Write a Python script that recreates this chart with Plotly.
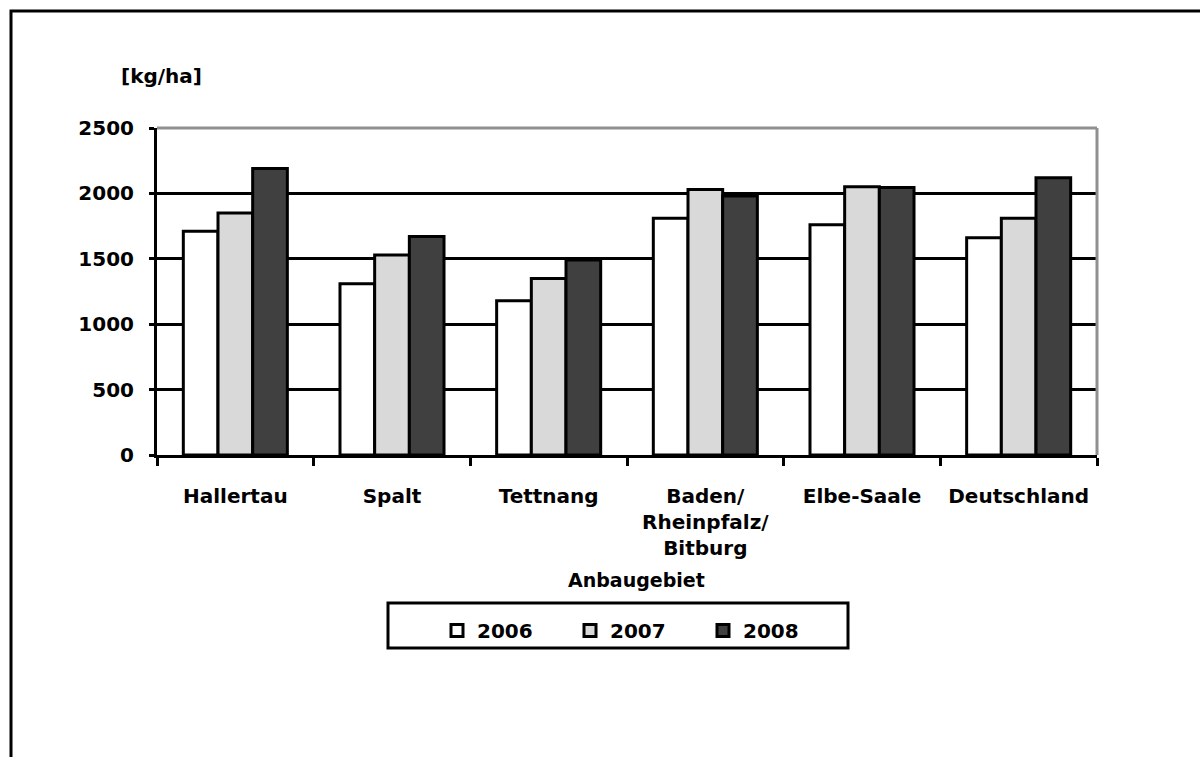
import plotly.graph_objects as go

# Hopfenertrag je Anbaugebiet
regions = ["Hallertau", "Spalt", "Tettnang", "Baden/<br>Rheinpfalz/<br>Bitburg", "Elbe-Saale", "Deutschland"]
years = ["2006", "2007", "2008"]
yield_2006 = [1710, 1310, 1180, 1810, 1760, 1660]
yield_2007 = [1850, 1530, 1350, 2030, 2050, 1810]
yield_2008 = [2190, 1670, 1490, 1980, 2045, 2120]
y_ticks = [0, 500, 1000, 1500, 2000, 2500]

colors = ["#ffffff", "#d9d9d9", "#404040"]
FONT = "DejaVu Sans, Arial, sans-serif"

fig = go.Figure()
for name, vals, col in zip(years, [yield_2006, yield_2007, yield_2008], colors):
    fig.add_trace(go.Bar(
        name=name, x=regions, y=vals,
        marker=dict(color=col, line=dict(color="#000000", width=3)),
    ))

# plot area in pixels: x 157..1097, y 128..455
L, R, T, B = 157, 1097, 128, 455
W, H = 1200, 757
def px(x):
    return (x - L) / (R - L)
def py(y):
    return (B - y) / (B - T)

fig.update_layout(
    width=W, height=H,
    margin=dict(l=L, r=W - R, t=T, b=H - B),
    paper_bgcolor="white", plot_bgcolor="white",
    font=dict(family=FONT, size=20, color="#000000", weight="bold"),
    barmode="group", bargap=0.336, bargroupgap=0,
    showlegend=True,
    legend=dict(
        orientation="h", x=px(437), y=py(611), xanchor="left", yanchor="top",
        bgcolor="rgba(0,0,0,0)", borderwidth=0,
        font=dict(family=FONT, size=20, weight="bold"),
        entrywidth=88, entrywidthmode="pixels",
        traceorder="normal",
    ),
    xaxis=dict(
        showline=True, linecolor="#000000", linewidth=3,
        ticks="outside", ticklen=8, tickwidth=3, tickcolor="#000000",
        tickson="boundaries", showgrid=False,
        ticklabelstandoff=21,
        tickfont=dict(family=FONT, size=20, weight="bold"),
    ),
    yaxis=dict(
        range=[0, 2500], tickvals=y_ticks,
        showline=True, linecolor="#000000", linewidth=3,
        ticks="outside", ticklen=5, tickwidth=3, tickcolor="#000000",
        showgrid=True, gridcolor="#000000", gridwidth=3,
        zeroline=False, ticklabelstandoff=11,
        tickfont=dict(family=FONT, size=20, weight="bold"),
    ),
    shapes=[
        # grey top and right edges of the plot frame
        dict(type="line", xref="paper", yref="paper", x0=0, x1=1, y0=1, y1=1,
             line=dict(color="#909090", width=3)),
        dict(type="line", xref="paper", yref="paper", x0=1, x1=1, y0=0, y1=1,
             line=dict(color="#909090", width=3)),
        # legend frame
        dict(type="rect", xref="paper", yref="paper",
             x0=px(388), x1=px(848), y0=py(648), y1=py(603),
             line=dict(color="#000000", width=3), fillcolor="rgba(0,0,0,0)"),
        # outer chart frame
        dict(type="rect", xref="paper", yref="paper",
             x0=px(11), x1=px(1215), y0=py(780), y1=py(11),
             line=dict(color="#000000", width=3), fillcolor="rgba(0,0,0,0)"),
    ],
    annotations=[
        dict(text="[kg/ha]", xref="paper", yref="paper", x=px(161), y=py(76),
             xanchor="center", yanchor="middle",
             showarrow=False, font=dict(family=FONT, size=20, weight="bold")),
        dict(text="Anbaugebiet", xref="paper", yref="paper", x=px(636), y=py(580),
             xanchor="center", yanchor="middle",
             showarrow=False, font=dict(family=FONT, size=19, weight="bold")),
    ],
)

fig.write_html("out.html")
